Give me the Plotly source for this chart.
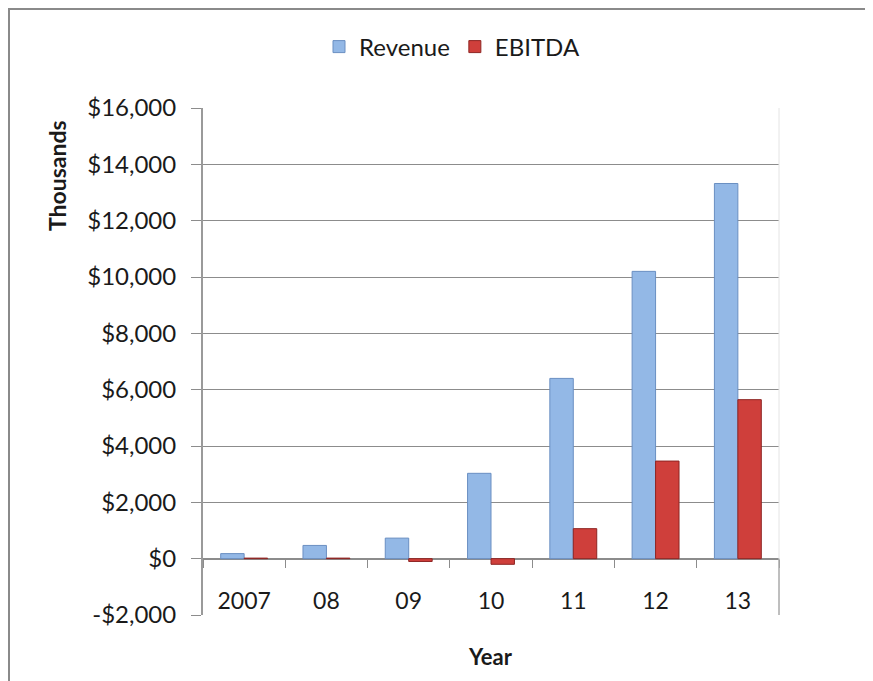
import plotly.graph_objects as go

years = ["2007", "08", "09", "10", "11", "12", "13"]
revenue = [180, 470, 730, 3030, 6400, 10200, 13320]
ebitda = [20, 20, -100, -200, 1065, 3465, 5645]
y_tickvals = [-2000, 0, 2000, 4000, 6000, 8000, 10000, 12000, 14000, 16000]
y_ticktext = ["-$2,000", "$0", "$2,000", "$4,000", "$6,000", "$8,000",
              "$10,000", "$12,000", "$14,000", "$16,000"]
series_names = ["Revenue", "EBITDA"]

# page body adds an 8px offset; work in page pixels and shift
OFF = 8
W, H = 873 - OFF, 681 - OFF
L, R, T, B = 203 - OFF, 779 - OFF, 108 - OFF, 615 - OFF
pw, ph = R - L, B - T

def px_x(x):
    return (x - OFF - L) / pw

def px_y(y):
    return (B - (y - OFF)) / ph

FONT = "Lato"
GRID = "#8C8C8C"

fig = go.Figure()
fig.add_trace(go.Bar(
    x=years, y=revenue, name=series_names[0],
    marker=dict(color="#93B8E6", line=dict(color="#6A8FC2", width=1)),
))
fig.add_trace(go.Bar(
    x=years, y=ebitda, name=series_names[1],
    marker=dict(color="#CF3F3B", line=dict(color="#8E2523", width=1)),
))

fig.update_layout(
    width=W, height=H,
    margin=dict(l=L, r=W - R, t=T, b=H - B, pad=0),
    paper_bgcolor="white", plot_bgcolor="white",
    barmode="group", bargap=0.43, bargroupgap=0,
    font=dict(family=FONT, size=22, color="#1a1a1a"),
    legend=dict(orientation="h", x=px_x(452), xanchor="center",
                y=px_y(47), yanchor="middle",
                font=dict(size=24), itemwidth=30, bgcolor="rgba(0,0,0,0)"),
    showlegend=True,
)

fig.update_yaxes(
    range=[-2000, 16000], tickvals=y_tickvals, ticktext=y_ticktext,
    showgrid=True, gridcolor=GRID, gridwidth=1, zeroline=False,
    showline=True, linecolor="#9A9A9A", linewidth=2,
    ticks="outside", ticklen=10, tickcolor=GRID, ticklabelstandoff=10,
    tickfont=dict(size=24),
)
fig.update_xaxes(
    type="category", anchor="free", position=2000 / 18000,
    showline=True, linecolor=GRID, linewidth=1, showgrid=False,
    ticks="outside", tickson="boundaries", ticklen=8, tickcolor=GRID,
    ticklabelstandoff=22, tickfont=dict(size=23), layer="below traces",
)

# right edge of plot area
fig.add_shape(type="line", xref="paper", yref="y", x0=1, x1=1, y0=-2000, y1=16000,
              line=dict(color="#E4E4E4", width=1))
fig.add_shape(type="line", xref="paper", yref="y", x0=1, x1=1, y0=-2000, y1=0,
              line=dict(color=GRID, width=1))
# outer chart border
fig.add_shape(type="rect", xref="paper", yref="paper",
              x0=px_x(9), x1=px_x(900), y0=px_y(9), y1=px_y(700),
              line=dict(color="#8A8A8A", width=2))

fig.add_annotation(text="<b>Thousands</b>", xref="paper", yref="paper",
                   x=px_x(57), y=px_y(176), xanchor="center", yanchor="middle",
                   textangle=-90, showarrow=False,
                   font=dict(size=23, family=FONT, color="#1a1a1a"))
fig.add_annotation(text="<b>Year</b>", xref="paper", yref="paper",
                   x=px_x(490), y=px_y(656), xanchor="center", yanchor="middle",
                   showarrow=False,
                   font=dict(size=22, family=FONT, color="#1a1a1a"))

fig.write_html("out.html")
